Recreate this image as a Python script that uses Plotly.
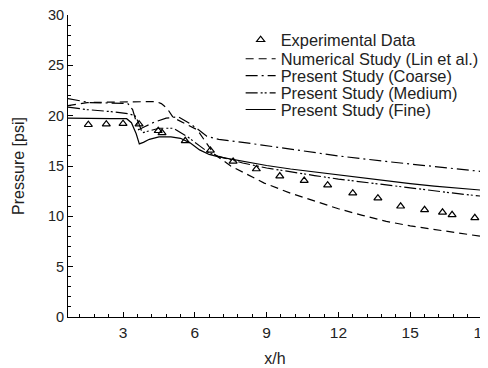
import plotly.graph_objects as go

# Experimental data
exp_x = [1.55, 2.3, 3.0, 3.67, 4.47, 4.63, 5.6, 6.65, 7.6, 8.57, 9.55, 10.57, 11.55,
         12.6, 13.65, 14.6, 15.6, 16.35, 16.75, 17.7]
exp_y = [19.1, 19.15, 19.2, 19.15, 18.5, 18.3, 17.5, 16.55, 15.45, 14.7, 14.0, 13.55, 13.1,
         12.3, 11.8, 11.0, 10.65, 10.4, 10.15, 9.85]

# Numerical study (Lin et al.)
lin_x = [0.7, 1.5, 2.5, 3.5, 4.4, 4.6, 4.85, 5.1, 5.5, 6.1, 6.45, 6.8, 7.5, 8.9, 10, 11,
         12, 13, 14, 15, 16, 17, 18]
lin_y = [21.0, 21.3, 21.35, 21.4, 21.4, 21.2, 20.7, 19.8, 19.3, 18.6, 17.4, 16.2, 15.0,
         13.3, 12.3, 11.5, 10.75, 10.1, 9.5, 9.05, 8.7, 8.35, 8.0]

# Present study (Coarse)
coarse_x = [0.7, 1.2, 1.6, 2.5, 3.2, 3.4, 3.55, 3.65, 3.9, 4.3, 4.8, 5.3, 5.7, 6.1, 6.5,
            7.0, 8, 10, 12, 14, 16, 18]
coarse_y = [21.7, 21.45, 21.3, 21.25, 21.2, 20.6, 19.5, 18.6, 18.9, 19.35, 19.75, 19.9,
            19.35, 18.7, 17.95, 17.65, 17.35, 16.7, 16.0, 15.45, 14.95, 14.45]

# Present study (Medium)
medium_x = [0.7, 1.5, 2.5, 3.2, 3.5, 3.65, 3.8, 4.1, 4.5, 5.1, 5.7, 6.2, 6.6, 7.0, 8, 9,
            10, 11, 12, 13, 14, 15, 16, 17, 18]
medium_y = [20.85, 20.6, 20.4, 20.2, 20.0, 19.3, 18.3, 18.5, 18.75, 18.75, 17.9, 17.0,
            16.3, 15.95, 15.3, 14.8, 14.4, 14.05, 13.7, 13.4, 13.1, 12.8, 12.5, 12.25, 12.0]

# Present study (Fine)
fine_x = [0.7, 1.5, 2.5, 3.15, 3.35, 3.55, 3.68, 3.85, 4.1, 4.5, 5.0, 5.4, 5.8, 6.2, 6.6,
          7.0, 8, 9, 10, 11, 12, 13, 14, 15, 16, 17, 18]
fine_y = [19.75, 19.7, 19.7, 19.7, 19.3, 18.2, 17.2, 17.35, 17.65, 17.9, 17.9, 17.75,
          17.3, 16.6, 16.15, 15.9, 15.45, 15.05, 14.7, 14.4, 14.1, 13.8, 13.5, 13.25, 13.0,
          12.8, 12.6]

x_ticks = [3, 6, 9, 12, 15, 18]
y_ticks = [0, 5, 10, 15, 20, 25, 30]

FONT = "Liberation Sans, Arial, sans-serif"
TXT = "#222"
LW = 1.2

fig = go.Figure()
fig.add_trace(go.Scatter(x=exp_x, y=exp_y, mode="markers", name="Experimental Data",
                         legend="legend",
                         marker=dict(symbol="triangle-up-open", size=7, color="black",
                                     line=dict(width=1.2, color="black"))))
fig.add_trace(go.Scatter(x=lin_x, y=lin_y, mode="lines", name="Numerical Study (Lin et al.)",
                         legend="legend2",
                         line=dict(color="black", width=LW, dash="8px,5px")))
fig.add_trace(go.Scatter(x=coarse_x, y=coarse_y, mode="lines", name="Present Study (Coarse)",
                         legend="legend3",
                         line=dict(color="black", width=LW, dash="12px,4px,2px,4px")))
fig.add_trace(go.Scatter(x=medium_x, y=medium_y, mode="lines", name="Present Study (Medium)",
                         legend="legend4",
                         line=dict(color="black", width=LW, dash="12px,3px,2px,2px,2px,3px")))
fig.add_trace(go.Scatter(x=fine_x, y=fine_y, mode="lines", name="Present Study (Fine)",
                         legend="legend5",
                         line=dict(color="black", width=LW)))

LEG_X = 0.417
leg_rows = [0.917, 0.854, 0.798, 0.741, 0.686]
leg_common = dict(x=LEG_X, xanchor="left", yanchor="middle", bgcolor="rgba(0,0,0,0)",
                  font=dict(size=16.4, color=TXT, family=FONT))

fig.update_layout(
    width=480, height=360,
    margin=dict(l=60, r=6, t=7, b=51, autoexpand=False),
    paper_bgcolor="white", plot_bgcolor="white",
    font=dict(family=FONT, size=14, color=TXT),
    showlegend=True,
    legend=dict(y=leg_rows[0], **leg_common),
    legend2=dict(y=leg_rows[1], **leg_common),
    legend3=dict(y=leg_rows[2], **leg_common),
    legend4=dict(y=leg_rows[3], **leg_common),
    legend5=dict(y=leg_rows[4], **leg_common),
    xaxis=dict(range=[0.7, 18], tickvals=x_ticks, ticks="inside", ticklen=5,
               tickcolor="black", showline=True, linecolor="black", linewidth=1,
               showgrid=False, zeroline=False, mirror=False, automargin=False,
               ticklabeloverflow="allow", ticklabelstandoff=1,
               minor=dict(dtick=0.6, tick0=0, ticks="inside", ticklen=3, tickcolor="black"),
               title=dict(text="x/h", standoff=13, font=dict(size=16)),
               tickfont=dict(size=15.5)),
    yaxis=dict(range=[0, 30], tickvals=y_ticks, ticks="inside", ticklen=5,
               tickcolor="black", showline=True, linecolor="black", linewidth=1,
               showgrid=False, zeroline=False, mirror=False, automargin=False,
               ticklabeloverflow="allow",
               minor=dict(dtick=1, tick0=0, ticks="inside", ticklen=3, tickcolor="black"),
               title=dict(text="Pressure [psi]", standoff=19, font=dict(size=16)),
               tickfont=dict(size=14.5), ticklabelstandoff=0),
)

fig.write_html("out.html")
